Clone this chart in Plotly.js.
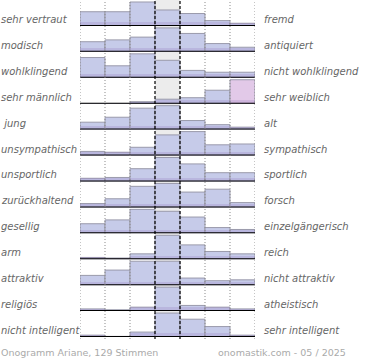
<!DOCTYPE html>
<html>
<head>
<meta charset="utf-8">
<script src="https://cdn.plot.ly/plotly-3.0.1.min.js"></script>
<style>html,body{margin:0;padding:0;background:#fff;}#chart{width:370px;height:360px;}</style>
</head>
<body>
<div id="chart"></div>
<script>
// Semantic differential (Onogramm) – share of votes per scale step (1..7), in %
const leftLabels = ['sehr vertraut','modisch','wohlklingend','sehr männlich','\u00a0jung','unsympathisch','unsportlich','zurückhaltend','gesellig','arm','attraktiv','religiös','nicht intelligent'];
const rightLabels = ['fremd','antiquiert','nicht wohlklingend','sehr weiblich','alt','sympathisch','sportlich','forsch','einzelgängerisch','reich','nicht attraktiv','atheistisch','sehr intelligent'];
const steps = [1,2,3,4,5,6,7];
const rowVertraut     = [16,16,27,18,14,6,3];
const rowModisch      = [11,13,16,26,20,9,5];
const rowWohlklingend = [22,13,26,19,8,6,6];
const rowMaennlich    = [0,0,4,9,12,27,48];
const rowJung         = [9,15,26,29,11,6,3];
const rowSympathisch  = [5,4,10,25,29,13,14];
const rowSportlich    = [4,5,16,30,22,11,11];
const rowForsch       = [4,9,22,25,16,19,5];
const rowGesellig     = [10,14,25,23,17,6,4];
const rowReich        = [3,2,9,40,24,13,9];
const rowAttraktiv    = [11,17,27,27,8,5,6];
const rowReligioes    = [5,3,9,55,13,9,5];
const rowIntelligent  = [3,1,8,39,29,17,3];
const rows = [rowVertraut,rowModisch,rowWohlklingend,rowMaennlich,rowJung,rowSympathisch,rowSportlich,rowForsch,rowGesellig,rowReich,rowAttraktiv,rowReligioes,rowIntelligent];
const footerLeft = 'Onogramm Ariane, 129 Stimmen';
const footerRight = 'onomastik.com - 05 / 2025';

const N = rows.length;
const nSteps = steps.length;
const barColor = '#c6cbe9';
const pinkColor = '#e2c9e8';
const labelFont = {family:'DejaVu Sans', size:10, color:'#666', style:'italic'};

const traces = [];
const layout = {
  width:370, height:360,
  margin:{l:80, r:115, t:0, b:23, pad:0},
  paper_bgcolor:'#fff', plot_bgcolor:'rgba(0,0,0,0)',
  showlegend:false, bargap:0, barmode:'overlay',
  xaxis:{range:[0.5, nSteps+0.5], visible:false, fixedrange:true},
  shapes:[], annotations:[]
};

// middle column background
layout.shapes.push({type:'rect', xref:'x', yref:'paper', x0:(nSteps+1)/2-0.5, x1:(nSteps+1)/2+0.5, y0:0, y1:1,
  fillcolor:'#ececec', line:{width:0}, layer:'below'});

rows.forEach((vals, i) => {
  const ax = i === 0 ? 'y' : 'y' + (i+1);
  const axKey = i === 0 ? 'yaxis' : 'yaxis' + (i+1);
  const mx = Math.max(...vals);
  const top = mx*26/24;
  layout[axKey] = {domain:[1-(i+1)/N, 1-i/N], range:[0, top], visible:false, fixedrange:true, anchor:'x'};
  const colors = vals.map((v, j) => (i === 3 && v === mx) ? pinkColor : barColor);
  traces.push({type:'bar', x:steps, y:vals, xaxis:'x', yaxis:ax,
    marker:{color:colors, line:{color:'#9a9aab', width:1}}, hoverinfo:'skip'});
  // purple shading at the foot of each bar
  traces.push({type:'bar', x:steps, y:vals.map(v => Math.min(v, top*0.14)), xaxis:'x', yaxis:ax,
    marker:{color:'rgba(140,110,180,0.22)', line:{width:0}}, hoverinfo:'skip'});
  // baseline
  layout.shapes.push({type:'line', xref:'x', yref:ax, x0:0.45, x1:nSteps+0.55, y0:0, y1:0,
    line:{color:'#000', width:2}, layer:'above'});
  layout.annotations.push({xref:'paper', yref:ax+' domain', x:-80/175, y:0.25, xanchor:'left', yanchor:'middle',
    text:leftLabels[i], showarrow:false, font:labelFont, borderpad:0});
  layout.annotations.push({xref:'paper', yref:ax+' domain', x:183/175, y:0.25, xanchor:'left', yanchor:'middle',
    text:rightLabels[i], showarrow:false, font:labelFont, borderpad:0});
});

// vertical grid lines
for (let k = 0; k <= nSteps; k++) {
  const xv = k + 0.5;
  const mid = (k === 3 || k === 4);
  layout.shapes.push({type:'line', xref:'x', yref:'paper', x0:xv, x1:xv, y0:-0.006, y1:1,
    line:{color: mid ? '#000' : '#8a8a8a', width: mid ? 1.2 : 1, dash: mid ? '3px,2px' : '1px,2px'}, layer:'above'});
}

layout.annotations.push({xref:'paper', yref:'paper', x:-80/175, y:-15/337, xanchor:'left', yanchor:'middle',
  text:footerLeft, showarrow:false, font:{family:'DejaVu Sans', size:9.5, color:'#aaa'}, borderpad:0});
layout.annotations.push({xref:'paper', yref:'paper', x:267/175, y:-15/337, xanchor:'right', yanchor:'middle',
  text:footerRight, showarrow:false, font:{family:'DejaVu Sans', size:9.5, color:'#aaa'}, borderpad:0});

Plotly.newPlot('chart', traces, layout, {staticPlot:true, displayModeBar:false});
</script>
</body>
</html>
